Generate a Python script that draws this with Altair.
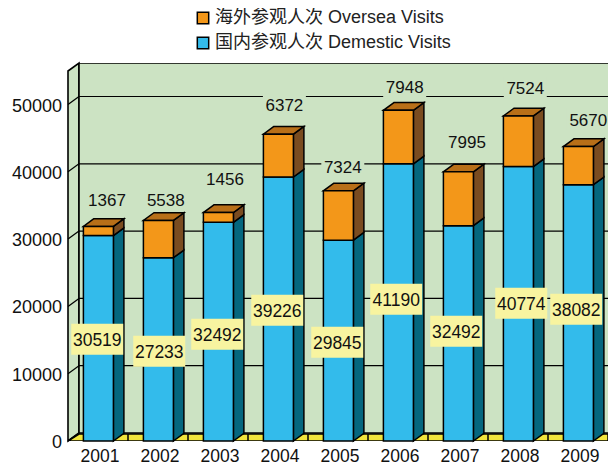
import altair as alt
import pandas as pd

years = ["2001","2002","2003","2004","2005","2006","2007","2008","2009"]
domestic_labels = [30519,27233,32492,39226,29845,41190,32492,40774,38082]
domestic_bars = [30519,27233,32492,39226,29845,41190,32000,40774,38082]
oversea = [1367,5538,1456,6372,7324,7948,7995,7524,5670]
y_ticks = [0,10000,20000,30000,40000,50000]
s_over = "海外参观人次 Oversea Visits"
s_dom = "国内参观人次 Demestic Visits"

# layout constants (pixels)
PW, PH = 540, 378
PX_PER = 6.73 / 1000
STEP = 60
BAR_W = 30
DX, DY = 11, 8
FDY = 7
BDX, BDY = 10.5, 7.7
FONT = "Liberation Sans, Arial, Noto Sans CJK SC"
LABEL_DX = [8.6, 7.4, 6.6, 6, 4.4, 6.3, 8.6, 6.9, 9.9]     # oversea label nudges
LABEL_UP = [27.4, 21.4, 34.5, 29.8, 24.2, 23.6, 30.1, 28.3, 27.3]
BOX_DX = [-1, 1, -1, -1, -1, -2, -2, 3, -2]                # domestic box nudges
BOX_UP = [-1, -2, -2.7, -1.3, -1.8, 3.1, 0.3, 0.5, 3.5]

Y_MAX = PH / PX_PER
xs = alt.Scale(domain=[0, PW], nice=False, zero=False)
ys = alt.Scale(domain=[0, Y_MAX], nice=False, zero=False)
X = lambda f="x": alt.X(f"{f}:Q", scale=xs, axis=None)
Y = lambda f="y": alt.Y(f"{f}:Q", scale=ys, axis=None)
v = lambda px: px / PX_PER

centers = [i * STEP + 30.4 for i in range(len(years))]

# walls
left_wall = pd.DataFrame([
    dict(x=0, y=v(0), y2=v(PH - DY)),
    dict(x=DX, y=v(DY), y2=v(PH)),
])
back_wall = pd.DataFrame([dict(x=DX, x2=PW + 20, y=v(DY), y2=v(PH))])
floor = pd.DataFrame([
    dict(y=v(0), x=0, x2=PW + 20),
    dict(y=v(FDY), x=DX, x2=PW + 20 + DX),
])
WALL = "#CCE3C3"
l_left = alt.Chart(left_wall).mark_area(fill=WALL, stroke="black", strokeWidth=1.6).encode(X(), Y(), y2="y2:Q")
l_back = alt.Chart(back_wall).mark_rect(fill=WALL, stroke="black", strokeWidth=1.6, clip=True).encode(X(), x2="x2:Q", y=Y(), y2="y2:Q")
l_floor = alt.Chart(floor).mark_area(fill="#F2E53C", stroke="black", strokeWidth=1.6, orient="horizontal", clip=True).encode(Y(), X(), x2="x2:Q")

# floor dividers
div = pd.DataFrame([dict(k=i, x=STEP * i, y=v(0)) for i in range(1, 10)] + [dict(k=i, x=STEP * i, y=v(FDY)) for i in range(1, 10)])
l_div = alt.Chart(div).mark_line(stroke="black", strokeWidth=1.5, clip=True).encode(X(), Y(), detail="k:N")

# grid + slanted ticks
grid = pd.DataFrame([dict(t=t, x=DX, x2=PW, y=t + v(DY)) for t in y_ticks[1:]])
l_grid = alt.Chart(grid).mark_rule(stroke="black", strokeWidth=1.2).encode(X(), x2="x2:Q", y=Y())
l_tick = alt.Chart(pd.DataFrame(
    [dict(t=t, x=0, y=t) for t in y_ticks] + [dict(t=t, x=DX, y=t + v(DY)) for t in y_ticks]
)).mark_line(stroke="black", strokeWidth=1.2).encode(X(), Y(), detail="t:N")

# y labels
ylab = pd.DataFrame(dict(y=y_ticks, x=[-6] * len(y_ticks), t=[str(t) for t in y_ticks]))
l_ylab = alt.Chart(ylab).mark_text(font=FONT, fontSize=18, color="#111", align="right", clip=False, dy=2).encode(X(), Y(), text="t:N")

# top labels with wall-coloured backing
tops = pd.DataFrame([dict(x=c + n, y=d + o + v(u), t=str(o))
                     for c, d, o, n, u in zip(centers, domestic_bars, oversea, LABEL_DX, LABEL_UP)])
tops["x1"] = tops.x - 21.5; tops["x2"] = tops.x + 21.5
tops["y1"] = tops.y - v(11); tops["y2"] = tops.y + v(11)
l_topbg = alt.Chart(tops).mark_rect(fill=WALL).encode(alt.X("x1:Q", scale=xs, axis=None), x2="x2:Q", y=alt.Y("y1:Q", scale=ys, axis=None), y2="y2:Q")
l_toptx = alt.Chart(tops).mark_text(font=FONT, fontSize=17, color="#111", dy=1.5).encode(X(), Y(), text="t:N")

# bars
front, sides_b, sides_o, top_f = [], [], [], []
for i, (c, d, o) in enumerate(zip(centers, domestic_bars, oversea)):
    l, r = c - BAR_W / 2, c + BAR_W / 2
    front.append(dict(x=l, x2=r, y=0, y2=d, s=s_dom))
    front.append(dict(x=l, x2=r, y=d, y2=d + o, s=s_over))
    sides_b += [dict(k=i, x=r, y=0, y2=d), dict(k=i, x=r + BDX, y=v(BDY), y2=d + v(BDY))]
    sides_o += [dict(k=i, x=r, y=d, y2=d + o), dict(k=i, x=r + BDX, y=d + v(BDY), y2=d + o + v(BDY))]
    top_f += [dict(k=i, y=d + o, x=l, x2=r), dict(k=i, y=d + o + v(BDY), x=l + BDX, x2=r + BDX)]
front = pd.DataFrame(front)

l_front = alt.Chart(front).mark_rect(stroke="black", strokeWidth=1.5).encode(
    X(), x2="x2:Q", y=Y(), y2="y2:Q",
    fill=alt.Fill("s:N", scale=alt.Scale(domain=[s_over, s_dom], range=["#F39719", "#33BBEB"]),
        legend=alt.Legend(orient="none", legendX=126, legendY=-54, title=None, symbolType="square", symbolSize=130,
            symbolStrokeColor="black", symbolStrokeWidth=1.5, labelFont=FONT, labelFontSize=18, labelColor="#222",
            rowPadding=7, labelLimit=400, labelOffset=3)))
sty = dict(stroke="black", strokeWidth=1.5)
l_sb = alt.Chart(pd.DataFrame(sides_b)).mark_area(fill="#05677F", **sty).encode(X(), Y(), y2="y2:Q", detail="k:N")
l_so = alt.Chart(pd.DataFrame(sides_o)).mark_area(fill="#7A4C20", **sty).encode(X(), Y(), y2="y2:Q", detail="k:N")
l_tf = alt.Chart(pd.DataFrame(top_f)).mark_area(fill="#B86F18", orient="horizontal", **sty).encode(Y(), X(), x2="x2:Q", detail="k:N")

# value labels on yellow boxes
boxes = pd.DataFrame([dict(x=c - 0.15 + n, y=d / 2 + v(u), t=str(d))
                      for c, d, n, u in zip(centers, domestic_labels, BOX_DX, BOX_UP)])
boxes["x1"] = boxes.x - 26; boxes["x2"] = boxes.x + 26
boxes["y1"] = boxes.y - v(15.5); boxes["y2"] = boxes.y + v(15.5)
l_box = alt.Chart(boxes).mark_rect(fill="#F8F4A0").encode(alt.X("x1:Q", scale=xs, axis=None), x2="x2:Q", y=alt.Y("y1:Q", scale=ys, axis=None), y2="y2:Q")
l_boxt = alt.Chart(boxes).mark_text(font=FONT, fontSize=17.5, color="#111", dy=1.5).encode(X(), Y(), text="t:N")

# category labels
cats = pd.DataFrame(dict(x=[c + 1.6 for c in centers], t=years, y=[-v(15)] * len(years)))
l_cat = alt.Chart(cats).mark_text(font=FONT, fontSize=17.5, color="#111", clip=False, dy=1).encode(X(), Y(), text="t:N")

chart = alt.layer(l_left, l_back, l_floor, l_div, l_grid, l_tick, l_ylab, l_topbg, l_toptx,
                  l_sb, l_so, l_tf, l_front, l_box, l_boxt, l_cat).properties(
    width=PW, height=PH, autosize=alt.AutoSizeParams(type="none"),
    padding={"left": 60, "top": 55, "right": 0, "bottom": 28},
    background="white",
).configure_view(stroke=None)

chart.save("out.html", embed_options={"renderer": "svg", "actions": False})
